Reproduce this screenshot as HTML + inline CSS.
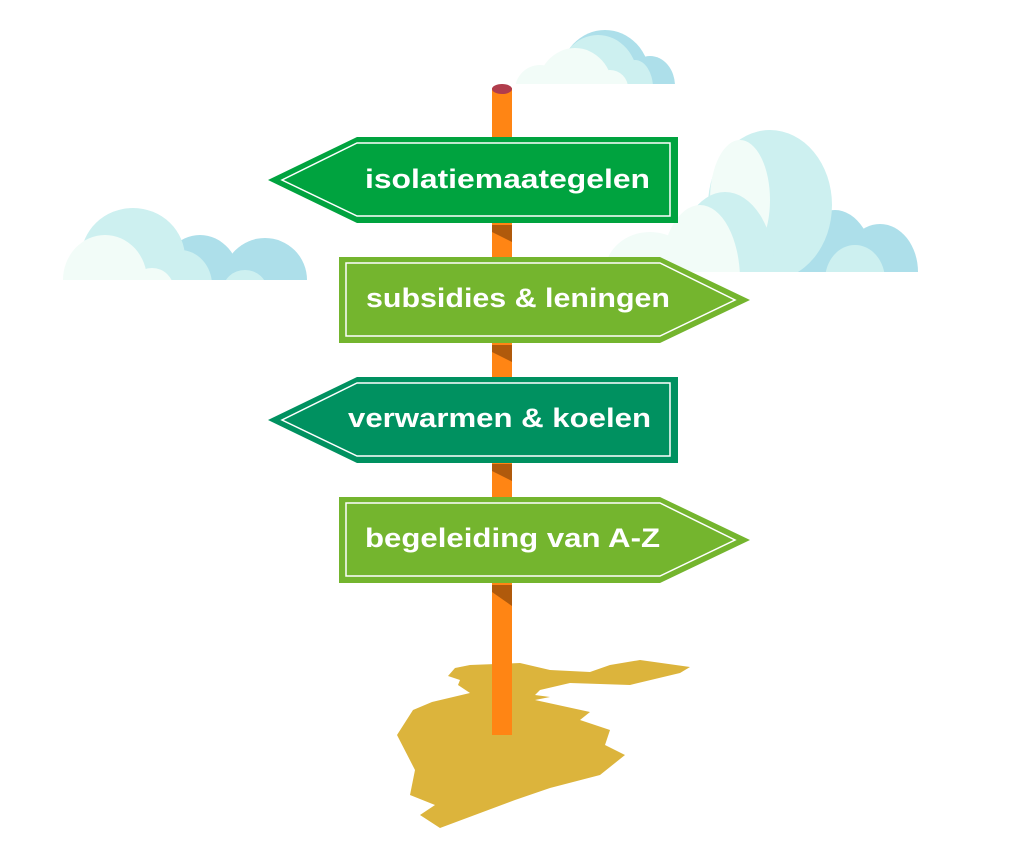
<!DOCTYPE html>
<html><head><meta charset="utf-8"><style>
html,body{margin:0;padding:0;background:#fff;width:1024px;height:861px;overflow:hidden}
svg{display:block}
text{font-family:"Liberation Sans",sans-serif;font-weight:bold;fill:#fff;font-size:27px}
</style></head><body>
<svg width="1024" height="861" viewBox="0 0 1024 861">
<defs>
<clipPath id="cl"><rect x="0" y="0" width="1024" height="280"/></clipPath>
<clipPath id="cr"><rect x="0" y="0" width="918" height="272"/></clipPath>
<clipPath id="ct"><rect x="0" y="0" width="1024" height="84"/></clipPath>
</defs>
<!-- left cloud -->
<g clip-path="url(#cl)">
<ellipse cx="265" cy="280" rx="42" ry="42" fill="#addfea"/>
<ellipse cx="200" cy="280" rx="40" ry="45" fill="#addfea"/>
<ellipse cx="133" cy="258" rx="52" ry="50" fill="#cdf0f0"/>
<ellipse cx="180" cy="285" rx="32" ry="35" fill="#cdf0f0"/>
<ellipse cx="105" cy="280" rx="42" ry="45" fill="#f2fcf8"/>
<ellipse cx="152" cy="290" rx="22" ry="22" fill="#f2fcf8"/>
<ellipse cx="245" cy="290" rx="22" ry="20" fill="#cdf0f0"/>
</g>
<!-- right cloud -->
<g clip-path="url(#cr)">
<ellipse cx="880" cy="272" rx="38" ry="48" fill="#addfea"/>
<ellipse cx="835" cy="272" rx="40" ry="62" fill="#addfea"/>
<ellipse cx="770" cy="205" rx="62" ry="75" fill="#cdf0f0"/>
<ellipse cx="855" cy="280" rx="30" ry="35" fill="#cdf0f0"/>
<ellipse cx="740" cy="200" rx="30" ry="60" fill="#f2fcf8"/>
<ellipse cx="725" cy="272" rx="50" ry="80" fill="#cdf0f0"/>
<ellipse cx="700" cy="280" rx="40" ry="75" fill="#f2fcf8"/>
<ellipse cx="650" cy="272" rx="45" ry="40" fill="#f2fcf8"/>
</g>
<!-- top cloud -->
<g clip-path="url(#ct)">
<ellipse cx="605" cy="78" rx="45" ry="48" fill="#addfea"/>
<ellipse cx="650" cy="86" rx="25" ry="30" fill="#addfea"/>
<ellipse cx="598" cy="80" rx="40" ry="45" fill="#cdf0f0"/>
<ellipse cx="635" cy="88" rx="18" ry="28" fill="#cdf0f0"/>
<ellipse cx="575" cy="90" rx="38" ry="42" fill="#f2fcf8"/>
<ellipse cx="540" cy="90" rx="25" ry="25" fill="#f2fcf8"/>
<ellipse cx="610" cy="88" rx="18" ry="18" fill="#f2fcf8"/>
</g>
<!-- puddle -->
<polygon fill="#dcb43c" points="455,668 470,665 520,663 550,670 590,672 610,665 640,660 690,667 680,673 630,685 570,683 540,690 535,695 550,697 535,700 590,712 580,720 610,730 605,745 625,755 600,775 550,788 515,800 440,828 420,815 435,805 410,795 415,770 397,735 413,710 432,702 470,693 458,685 460,680 448,676"/>
<!-- pole -->
<rect x="492" y="88" width="20" height="647" fill="#ff8514"/>
<ellipse cx="502" cy="89" rx="10" ry="5" fill="#b03c4c"/>
<polygon points="492,225 512,225 512,242 492,232" fill="#b05a0c"/>
<polygon points="492,345 512,345 512,362 492,352" fill="#b05a0c"/>
<polygon points="492,464 512,464 512,481 492,471" fill="#b05a0c"/>
<polygon points="492,585 512,585 512,606 492,592" fill="#b05a0c"/>
<!-- sign 1 -->
<polygon points="357,137 678,137 678,223 357,223 268,180" fill="#00a33f"/>
<polygon points="357,143 670,143 670,216 357,216 282,180" fill="none" stroke="#fff" stroke-width="1.5"/>
<text x="365" y="188" textLength="285" lengthAdjust="spacingAndGlyphs">isolatiemaategelen</text>
<!-- sign 2 -->
<polygon points="339,257 660,257 750,300 660,343 339,343" fill="#74b52e"/>
<polygon points="346,263 660,263 735,300 660,336 346,336" fill="none" stroke="#fff" stroke-width="1.5"/>
<text x="366" y="307" textLength="304" lengthAdjust="spacingAndGlyphs">subsidies &amp; leningen</text>
<!-- sign 3 -->
<polygon points="357,377 678,377 678,463 357,463 268,420" fill="#009160"/>
<polygon points="357,383 670,383 670,456 357,456 282,420" fill="none" stroke="#fff" stroke-width="1.5"/>
<text x="348" y="427" textLength="303" lengthAdjust="spacingAndGlyphs">verwarmen &amp; koelen</text>
<!-- sign 4 -->
<polygon points="339,497 660,497 750,540 660,583 339,583" fill="#74b52e"/>
<polygon points="346,503 660,503 735,540 660,576 346,576" fill="none" stroke="#fff" stroke-width="1.5"/>
<text x="365" y="547" textLength="295" lengthAdjust="spacingAndGlyphs">begeleiding van A-Z</text>
</svg>
</body></html>
